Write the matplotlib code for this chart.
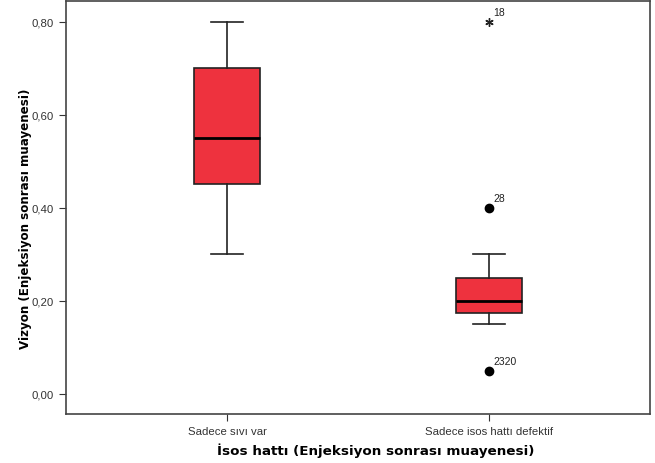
import matplotlib.pyplot as plt

# groups
groups = ['Sadece sıvı var', 'Sadece isos hattı defektif']
q1 = [0.45, 0.175]
med = [0.55, 0.20]
q3 = [0.70, 0.25]
whislo = [0.30, 0.15]
whishi = [0.80, 0.30]
# outliers of group 2: value, label, kind
out_vals = [0.40, 0.05]
out_labels = ['28', '2320']
extreme_vals = [0.80]
extreme_labels = ['18']

fig = plt.figure(figsize=(6.55, 4.64), dpi=100)
ax = fig.add_axes([0.1008, 0.1056, 0.8916, 0.890])

stats = []
for i in range(len(groups)):
    stats.append(dict(q1=q1[i], med=med[i], q3=q3[i], whislo=whislo[i],
                      whishi=whishi[i], fliers=[], label=groups[i]))

ax.bxp(stats, positions=[1, 2], widths=0.25, patch_artist=True,
       showfliers=False,
       boxprops=dict(facecolor='#ee323e', edgecolor='#222222', linewidth=1.2),
       medianprops=dict(color='black', linewidth=2),
       whiskerprops=dict(color='#222222', linewidth=1.2),
       capprops=dict(color='#222222', linewidth=1.2),
       capwidths=0.12)

ax.plot([2] * len(out_vals), out_vals, 'o', color='black', markersize=6)
ax.plot([2] * len(extreme_vals), extreme_vals, marker=(6, 2, 0), ls='none',
        color='#222222', markersize=6, markeredgewidth=1)
for v, lab in zip(out_vals + extreme_vals, out_labels + extreme_labels):
    ax.annotate(lab, (2, v), xytext=(3, 5), textcoords='offset points',
                fontsize=7.5, family='Liberation Sans', color='#222222')

ax.set_xlim(0.386, 2.614)
ax.set_ylim(-0.043, 0.844)
ax.set_yticks([0, 0.2, 0.4, 0.6, 0.8])
ax.set_yticklabels(['0,00', '0,20', '0,40', '0,60', '0,80'])
ax.set_xticks([1, 2])
ax.set_xticklabels(groups)
for lab in ax.get_xticklabels() + ax.get_yticklabels():
    lab.set_family('Liberation Sans')
    lab.set_fontsize(8.2)
    lab.set_color('#333333')
ax.tick_params(length=5, color='#333333')

for s in ax.spines.values():
    s.set_color('#444444')
    s.set_linewidth(1.2)

ax.set_xlabel('İsos hattı (Enjeksiyon sonrası muayenesi)', fontsize=9.7,
              fontweight='bold')
ax.set_ylabel('Vizyon (Enjeksiyon sonrası muayenesi)', fontsize=8.6,
              fontweight='bold')
ax.xaxis.set_label_coords(0.53, -0.07)
ax.yaxis.set_label_coords(-0.058, 0.475)

fig.savefig('out.png')
